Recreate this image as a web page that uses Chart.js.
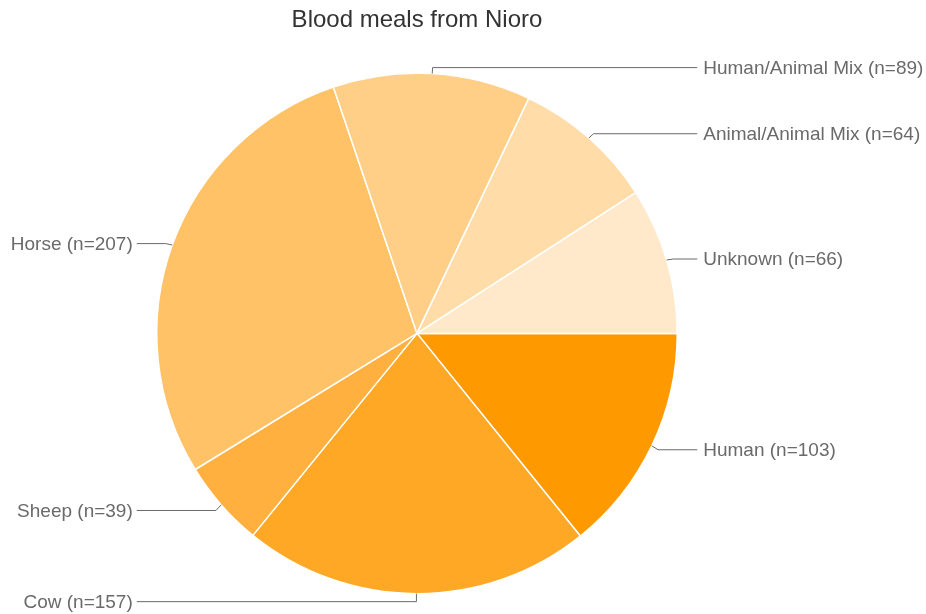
<!DOCTYPE html>
<html lang="en">
<head>
    <meta charset="UTF-8" />
    <title>Blood meals from Nioro</title>
    <script src="https://cdn.jsdelivr.net/npm/chart.js"></script>
    <style>
        html, body { margin: 0; padding: 0; background: #fff; }
        #wrap { width: 926px; height: 614px; }
    </style>
</head>
<body>

<div id="wrap">
    <canvas id="mealsChart" width="926" height="614"></canvas>
</div>

<script>
    // data
    const hosts = ['Human', 'Cow', 'Sheep', 'Horse', 'Human/Animal Mix', 'Animal/Animal Mix', 'Unknown'];
    const counts = [103, 157, 39, 207, 89, 64, 66];
    const sliceColors = ['#ff9900', '#ffa826', '#ffb03e', '#ffc266', '#ffce87', '#ffdca8', '#ffe9ca'];

    // outside labels with leader lines
    const sideLabels = {
        id: 'sideLabels',
        afterDatasetsDraw(chart) {
            const ctx = chart.ctx;
            const meta = chart.getDatasetMeta(0);
            ctx.save();
            ctx.font = '19px "Liberation Sans", Arial, sans-serif';
            ctx.textBaseline = 'middle';
            ctx.strokeStyle = '#6a6a6a';
            ctx.fillStyle = '#6a6a6a';
            ctx.lineWidth = 1;

            meta.data.forEach((arc, i) => {
                const p = arc.getProps(['x', 'y', 'startAngle', 'endAngle', 'outerRadius'], true);
                const mid = (p.startAngle + p.endAngle) / 2;
                const cos = Math.cos(mid), sin = Math.sin(mid);
                const x0 = p.x + cos * p.outerRadius;
                const y0 = p.y + sin * p.outerRadius;
                const x1 = p.x + cos * (p.outerRadius + 7);
                const y1 = p.y + sin * (p.outerRadius + 7) + 1;
                const right = cos >= 0;
                const x2 = right ? p.x + p.outerRadius + 20 : p.x - p.outerRadius - 20;

                ctx.beginPath();
                ctx.moveTo(x0, y0);
                ctx.lineTo(x1, y1);
                ctx.lineTo(x2, y1);
                ctx.stroke();

                const text = `${hosts[i]} (n=${counts[i]})`;
                ctx.textAlign = right ? 'left' : 'right';
                ctx.fillText(text, right ? x2 + 6 : x2 - 4, y1 + 1);
            });
            ctx.restore();
        }
    };

    new Chart(document.getElementById('mealsChart').getContext('2d'), {
        type: 'pie',
        data: {
            labels: hosts,
            datasets: [{
                data: counts,
                backgroundColor: sliceColors,
                borderColor: '#ffffff',
                borderWidth: 1.5
            }]
        },
        options: {
            responsive: false,
            animation: false,
            rotation: 90,
            layout: {
                padding: { left: 156, right: 248, top: 0, bottom: 19 }
            },
            plugins: {
                legend: { display: false },
                tooltip: { enabled: false },
                title: {
                    display: true,
                    text: 'Blood meals from Nioro',
                    fullSize: false,
                    color: '#333',
                    font: { family: '"Liberation Sans", Arial, sans-serif', size: 24, weight: 'normal' },
                    padding: { top: 6, bottom: 37 }
                }
            }
        },
        plugins: [sideLabels]
    });
</script>

</body>
</html>
